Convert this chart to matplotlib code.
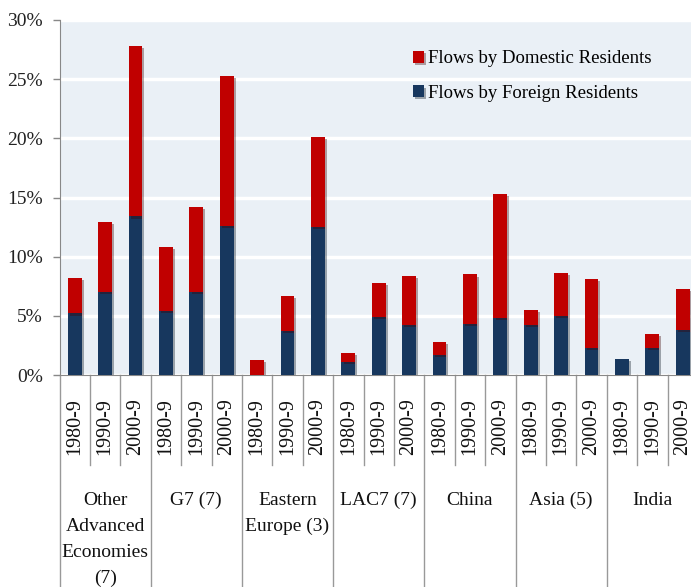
import matplotlib.pyplot as plt
import matplotlib.patheffects as pe
import numpy as np

plt.rcParams['font.family'] = ['Liberation Serif', 'DejaVu Serif']

# data (percent)
groups = ["Other\nAdvanced\nEconomies\n(7)", "G7 (7)", "Eastern\nEurope (3)",
          "LAC7 (7)", "China", "Asia (5)", "India"]
periods = ["1980-9", "1990-9", "2000-9"]

foreign = [5.2, 7.0, 13.4,
           5.4, 7.0, 12.6,
           0.0, 3.7, 12.5,
           1.1, 4.9, 4.2,
           1.7, 4.3, 4.8,
           4.2, 5.0, 2.3,
           1.35, 2.3, 3.8]
total = [8.2, 12.9, 27.8,
         10.8, 14.2, 25.3,
         1.3, 6.7, 20.1,
         1.9, 7.8, 8.4,
         2.8, 8.5, 15.3,
         5.5, 8.6, 8.1,
         1.35, 3.5, 7.3]
domestic = [t - f for t, f in zip(total, foreign)]

red = "#C00000"
navy = "#17375E"

fig = plt.figure(figsize=(6.91, 5.87), dpi=100)
ax = fig.add_axes([59.5/691, (587-375)/587, 638.4/691, 355/587])
ax.set_facecolor("#EAF0F6")

x = np.arange(len(total))
shadow = [pe.SimplePatchShadow(offset=(1.5, -1.5), alpha=0.35), pe.Normal()]
b1 = ax.bar(x, foreign, width=0.45, color=navy, zorder=3, label="Flows by Foreign Residents")
b2 = ax.bar(x, domestic, bottom=foreign, width=0.45, color=red, zorder=3,
            label="Flows by Domestic Residents")
for p in list(b1) + list(b2):
    p.set_path_effects(shadow)

ax.set_xlim(-0.5, len(total) - 0.5)
ax.set_ylim(0, 30)
ax.set_yticks(np.arange(0, 31, 5))
ax.set_yticklabels([f"{v}%" for v in range(0, 31, 5)], fontsize=14, color="#222222")
ax.tick_params(axis='y', length=5, width=1, color="#888888", pad=7)
ax.set_xticks([])
ax.grid(axis='y', color='white', linewidth=2.5, zorder=1)
ax.set_axisbelow(True)
for s in ['top', 'right']:
    ax.spines[s].set_visible(False)
ax.spines['left'].set_color("#888888")
ax.spines['bottom'].set_color("#888888")

# category separators and labels under the axis
tr = ax.get_xaxis_transform()
short_bot = (375 - 465) / 355
long_bot = (375 - 587) / 355
for i in range(len(total) + 1):
    xs = i - 0.5
    if i % 3 == 0:
        ax.plot([xs, xs], [0, long_bot], color="#999999", lw=1, transform=tr, clip_on=False)
    else:
        ax.plot([xs, xs], [0, short_bot], color="#999999", lw=1, transform=tr, clip_on=False)

for i in range(len(total)):
    ax.text(i, (375 - 427) / 355, periods[i % 3], rotation=90, ha='center', va='center',
            fontsize=14.5, transform=tr, color="#111111")

for g, name in enumerate(groups):
    ax.text(3 * g + 1, (375 - 492) / 355, name, ha='center', va='top', fontsize=14,
            linespacing=1.68, transform=tr, color="#111111")

leg = ax.legend(handles=[b2, b1], loc='upper left', bbox_to_anchor=(0.542, 0.936),
                frameon=False, fontsize=13.5, handlelength=0.6, handleheight=0.6,
                handletextpad=0.2, labelspacing=0.95, borderaxespad=0)

fig.savefig("out.png", dpi=100)
